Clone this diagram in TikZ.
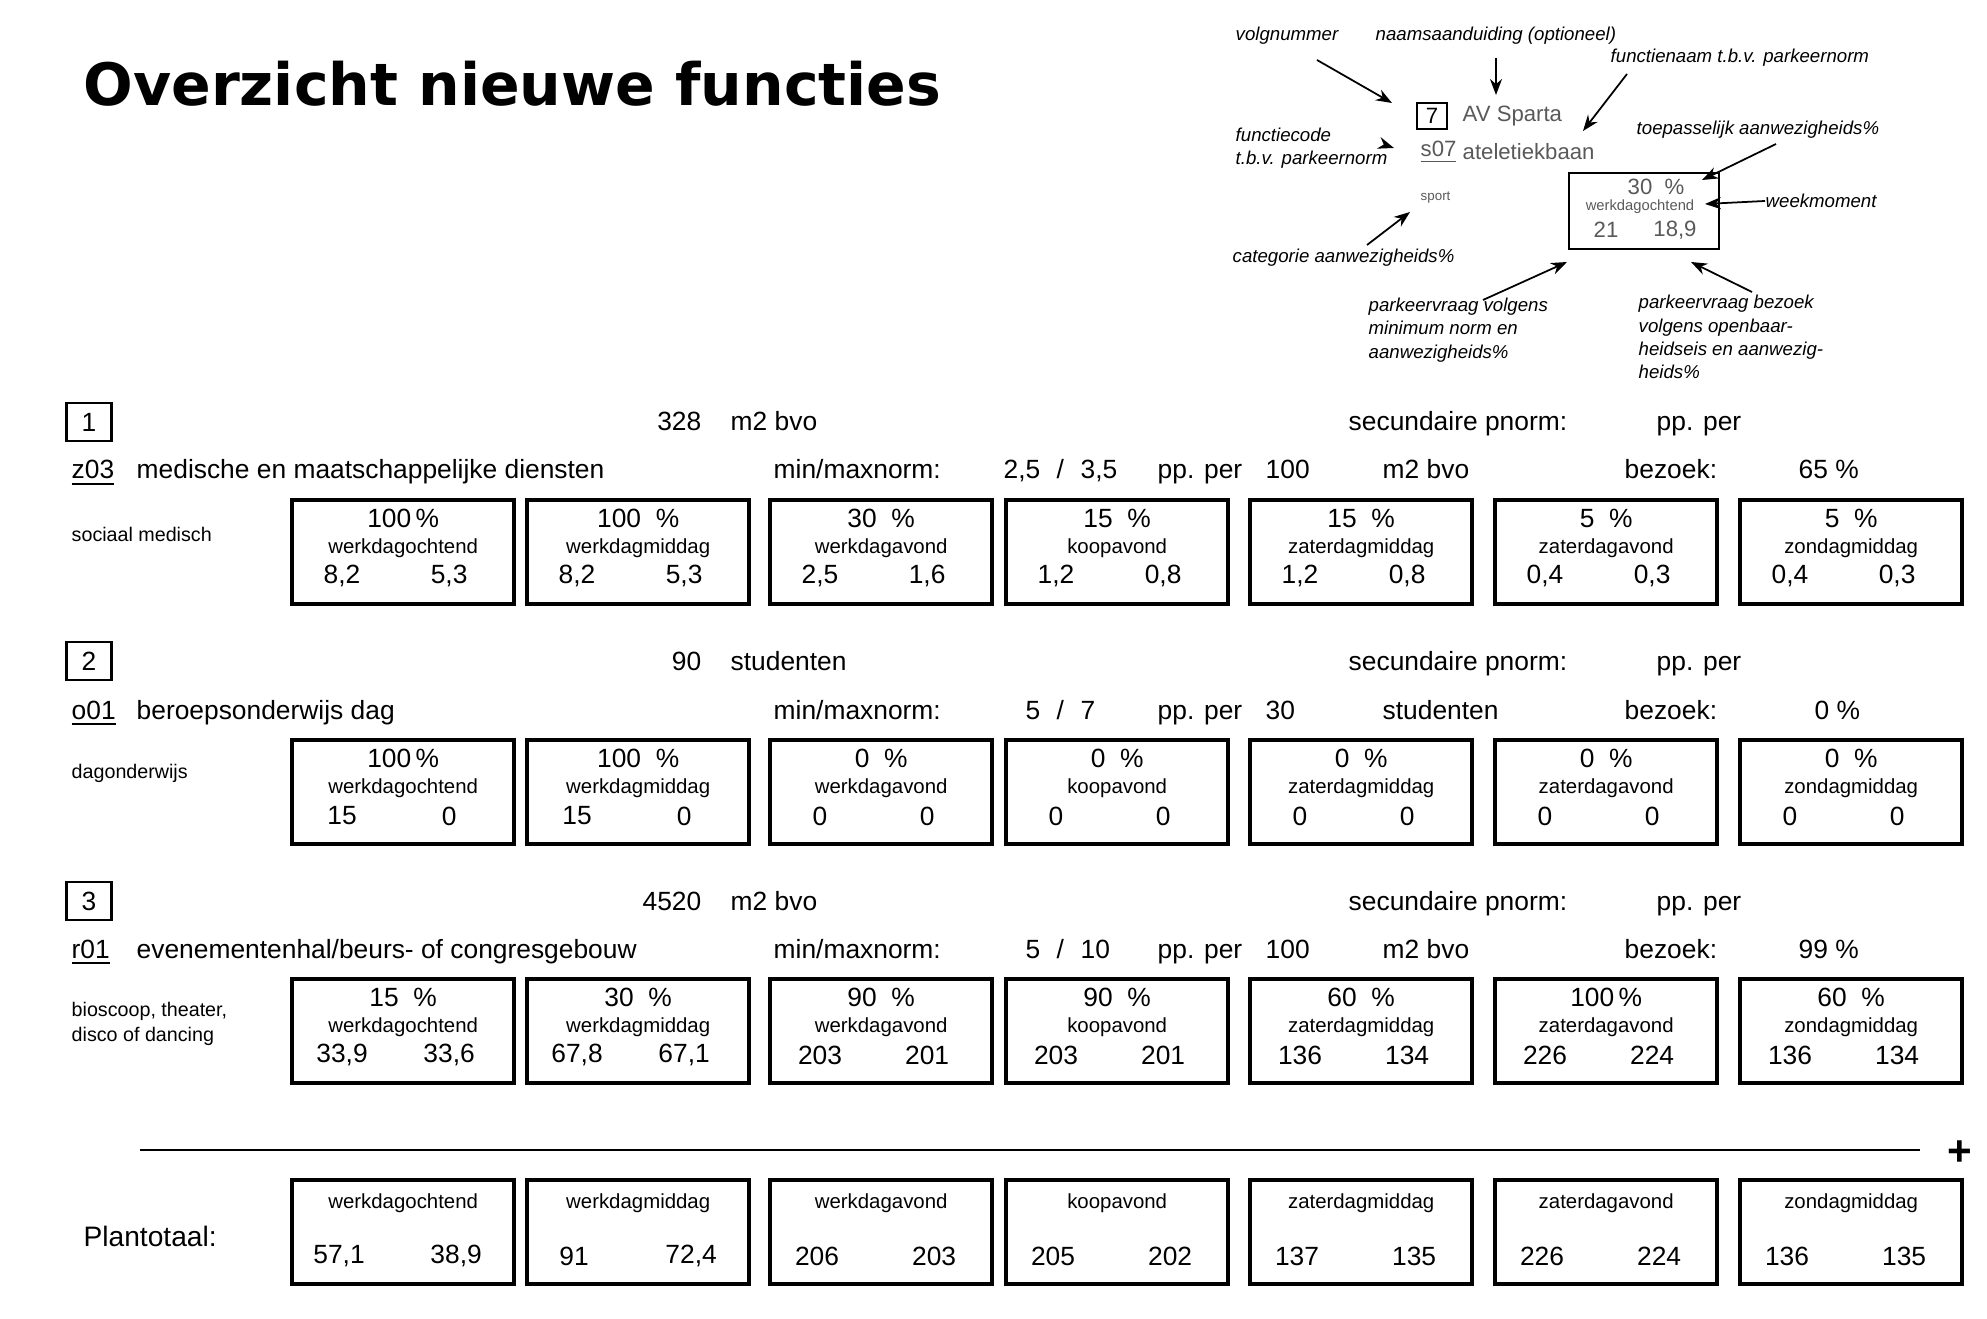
\documentclass[tikz,border=0pt]{standalone}
\usepackage{fontspec}
\setmainfont{Liberation Sans}
\newfontfamily\titlefont{DejaVu Sans}
\usetikzlibrary{arrows.meta,positioning}

% fixed columns of the week-moment boxes
\newcommand\colx[1]{\ifcase#1\or290\or525\or768\or1004\or1248\or1493\or1738\fi}

\begin{document}
\begin{tikzpicture}[
    x=0.01cm, y=-0.01cm,
    txt/.style={anchor=base west, yshift=-0.09cm, inner sep=0pt, font=\fontsize{7.5}{9}\selectfont},
    txtr/.style={txt, anchor=base east},
    cat/.style={anchor=west, inner sep=0pt, align=left, font=\fontsize{5.6}{7.2}\selectfont},
    nrbox/.style={draw, line width=0.6pt, minimum width=0.45cm, minimum height=0.38cm, inner sep=0pt, font=\fontsize{7.5}{9}\selectfont},
    daybox/.style={draw, line width=1.2pt, minimum width=2.22cm, minimum height=1.04cm, anchor=north west},
    pct/.style={inner sep=0pt, font=\fontsize{7.5}{9}\selectfont},
    day/.style={inner sep=0pt, font=\fontsize{5.8}{7}\selectfont},
    note/.style={anchor=west, inner sep=0pt, align=left, font=\fontsize{5.3}{6.6}\selectfont\itshape},
    gray/.style={text=black!65},
    pointer/.style={-{Stealth[length=1.6mm, width=1.2mm]}, line width=0.5pt},
]
    \useasboundingbox (0,0) rectangle (1987,1319);

    \node[anchor=west, inner sep=0pt] (title) at (83,84)
        {\resizebox{8.57cm}{!}{\titlefont\bfseries Overzicht nieuwe functies}};

    % legend
    \node[note] (volg) at (1235,36) {volgnummer};
    \node[note] (naam) at (1375,36) {naamsaanduiding (optioneel)};
    \node[note] (fnaam) at (1610,58) {functienaam t.b.v. parkeernorm};
    \node[note] (fcode) at (1235,148) {functiecode\\t.b.v. parkeernorm};
    \node[note] (categ) at (1232,258) {categorie aanwezigheids\%};
    \node[note] (toep) at (1636,130) {toepasselijk aanwezigheids\%};
    \node[note] (week) at (1765,201) {weekmoment};
    \node[note] (pminimum) at (1368,330) {parkeervraag volgens\\minimum norm en\\aanwezigheids\%};
    \node[note] (pbezoek) at (1638,337) {parkeervraag bezoek\\volgens openbaar-\\heidseis en aanwezig-\\heids\%};
    \node[draw, line width=0.5pt, minimum width=0.3cm, minimum height=0.26cm, inner sep=0pt, font=\fontsize{6.3}{7}\selectfont] (vnr) at (1432,116) {7};
    \node[anchor=west, inner sep=0pt, gray, font=\fontsize{6.3}{7}\selectfont] (avs) at (1462,116) {AV Sparta};
    \node[anchor=west, inner sep=0pt, gray, font=\fontsize{6.3}{7}\selectfont] (s07) at (1420,152) {\underline{s07}};
    \node[anchor=west, inner sep=0pt, gray, font=\fontsize{6.3}{7}\selectfont] (atl) at (1462,152) {ateletiekbaan};
    \node[anchor=west, inner sep=0pt, gray, font=\fontsize{3.8}{4}\selectfont] (sport) at (1420,198) {sport};
    \node[draw, line width=0.6pt, minimum width=1.5cm, minimum height=0.76cm, anchor=north west] (vb) at (1568,172) {};
    \node[pct, gray, font=\fontsize{6.3}{7}\selectfont] (vbp) at (1656,187) {30\ \ \%};
    \node[day, gray, font=\fontsize{4.2}{5}\selectfont] (vbd) at (1640,207) {werkdagochtend};
    \node[pct, gray, font=\fontsize{6.3}{7}\selectfont] (vbl) at (1606,230) {21};
    \node[pct, gray, font=\fontsize{6.3}{7}\selectfont] (vbr) at (1675,230) {18,9};
    \coordinate (v1) at (1392,103);
    \coordinate (v2) at (1496,95);
    \coordinate (v3) at (1583,131);
    \coordinate (v4) at (1394,148);
    \coordinate (v5) at (1410,212);
    \coordinate (v6) at (1702,180);
    \coordinate (v7) at (1705,204);
    \coordinate (v8) at (1567,262);
    \coordinate (v9) at (1691,262);
    \draw[pointer] (1317,60) -- (v1);
    \draw[pointer] (1496,58) -- (v2);
    \draw[pointer] (1627,74) -- (v3);
    \draw[pointer] (fcode.east |- 0,146) -- (v4);
    \draw[pointer] (1367,245) -- (v5);
    \draw[pointer] (1776,144) -- (v6);
    \draw[pointer] (week.west) -- (v7);
    \draw[pointer] (1483,300) -- (v8);
    \draw[pointer] (1752,292) -- (v9);

    % functie 1
    \node[nrbox] (nr1) at (89,422) {1};
    \node[txtr] (opp1) at (702,422) {328};
    \node[txt] (eh1) at (730,422) {m2 bvo};
    \node[txt] (sec1) at (1348,422) {secundaire pnorm:};
    \node[txt] (pp1) at (1656,422) {pp. per};
    \node[txt] (code1) at (71,470) {\underline{z03}};
    \node[txt] (fn1) at (136,470) {medische en maatschappelijke diensten};
    \node[txt] (mm1) at (773,470) {min/maxnorm:};
    \node[txtr] (min1) at (1041,470) {2,5};
    \node[txt] (sl1) at (1056,470) {/};
    \node[txt] (max1) at (1080,470) {3,5};
    \node[txt] (per1) at (1157,470) {pp. per};
    \node[txt] (n1) at (1265,470) {100};
    \node[txt] (ne1) at (1382,470) {m2 bvo};
    \node[txt] (bz1) at (1624,470) {bezoek:};
    \node[txt] (bzp1) at (1798,470) {65 \%};
    \node[cat] (cat1) at (71,534) {sociaal medisch};
    \foreach \k/\p/\d/\a/\b in {1/100\,\%/werkdagochtend/{8,2}/{5,3}, 2/100\ \ \%/werkdagmiddag/{8,2}/{5,3},
        3/30\ \ \%/werkdagavond/{2,5}/{1,6}, 4/15\ \ \%/koopavond/{1,2}/{0,8}, 5/15\ \ \%/zaterdagmiddag/{1,2}/{0,8},
        6/5\ \ \%/zaterdagavond/{0,4}/{0,3}, 7/5\ \ \%/zondagmiddag/{0,4}/{0,3}} {
        \node[daybox] (b1\k) at (\colx{\k},498) {};
        \node[pct] at ([yshift=-0.2cm]b1\k.north) {\p};
        \node[day] at ([yshift=-0.5cm]b1\k.north) {\d};
        \node[pct] at ([xshift=0.52cm,yshift=-0.78cm]b1\k.north west) {\a};
        \node[pct] at ([xshift=1.59cm,yshift=-0.78cm]b1\k.north west) {\b};
    }

    % functie 2
    \node[nrbox] (nr2) at (89,661) {2};
    \node[txtr] (opp2) at (702,661) {90};
    \node[txt] (eh2) at (730,661) {studenten};
    \node[txt] (sec2) at (1348,661) {secundaire pnorm:};
    \node[txt] (pp2) at (1656,661) {pp. per};
    \node[txt] (code2) at (71,710) {\underline{o01}};
    \node[txt] (fn2) at (136,710) {beroepsonderwijs dag};
    \node[txt] (mm2) at (773,710) {min/maxnorm:};
    \node[txtr] (min2) at (1041,710) {5};
    \node[txt] (sl2) at (1056,710) {/};
    \node[txt] (max2) at (1080,710) {7};
    \node[txt] (per2) at (1157,710) {pp. per};
    \node[txt] (n2) at (1265,710) {30};
    \node[txt] (ne2) at (1382,710) {studenten};
    \node[txt] (bz2) at (1624,710) {bezoek:};
    \node[txt] (bzp2) at (1814,710) {0 \%};
    \node[cat] (cat2) at (71,773) {dagonderwijs};
    \foreach \k/\p/\d/\a/\b in {1/100\,\%/werkdagochtend/15/0, 2/100\ \ \%/werkdagmiddag/15/0,
        3/0\ \ \%/werkdagavond/0/0, 4/0\ \ \%/koopavond/0/0, 5/0\ \ \%/zaterdagmiddag/0/0,
        6/0\ \ \%/zaterdagavond/0/0, 7/0\ \ \%/zondagmiddag/0/0} {
        \node[daybox] (b2\k) at (\colx{\k},738) {};
        \node[pct] at ([yshift=-0.2cm]b2\k.north) {\p};
        \node[day] at ([yshift=-0.5cm]b2\k.north) {\d};
        \node[pct] at ([xshift=0.52cm,yshift=-0.78cm]b2\k.north west) {\a};
        \node[pct] at ([xshift=1.59cm,yshift=-0.78cm]b2\k.north west) {\b};
    }

    % functie 3
    \node[nrbox] (nr3) at (89,901) {3};
    \node[txtr] (opp3) at (702,901) {4520};
    \node[txt] (eh3) at (730,901) {m2 bvo};
    \node[txt] (sec3) at (1348,901) {secundaire pnorm:};
    \node[txt] (pp3) at (1656,901) {pp. per};
    \node[txt] (code3) at (71,949) {\underline{r01}};
    \node[txt] (fn3) at (136,949) {evenementenhal/beurs- of congresgebouw};
    \node[txt] (mm3) at (773,949) {min/maxnorm:};
    \node[txtr] (min3) at (1041,949) {5};
    \node[txt] (sl3) at (1056,949) {/};
    \node[txt] (max3) at (1080,949) {10};
    \node[txt] (per3) at (1157,949) {pp. per};
    \node[txt] (n3) at (1265,949) {100};
    \node[txt] (ne3) at (1382,949) {m2 bvo};
    \node[txt] (bz3) at (1624,949) {bezoek:};
    \node[txt] (bzp3) at (1798,949) {99 \%};
    \node[cat] (cat3) at (71,1024) {bioscoop, theater,\\disco of dancing};
    \foreach \k/\p/\d/\a/\b in {1/15\ \ \%/werkdagochtend/{33,9}/{33,6}, 2/30\ \ \%/werkdagmiddag/{67,8}/{67,1},
        3/90\ \ \%/werkdagavond/203/201, 4/90\ \ \%/koopavond/203/201, 5/60\ \ \%/zaterdagmiddag/136/134,
        6/100\,\%/zaterdagavond/226/224, 7/60\ \ \%/zondagmiddag/136/134} {
        \node[daybox] (b3\k) at (\colx{\k},977) {};
        \node[pct] at ([yshift=-0.2cm]b3\k.north) {\p};
        \node[day] at ([yshift=-0.5cm]b3\k.north) {\d};
        \node[pct] at ([xshift=0.52cm,yshift=-0.78cm]b3\k.north west) {\a};
        \node[pct] at ([xshift=1.59cm,yshift=-0.78cm]b3\k.north west) {\b};
    }

    % totaal
    \coordinate (sumL) at (140,1150);
    \coordinate (sumR) at (1920,1150);
    \draw[line width=0.6pt] (sumL) -- (sumR);
    \node[inner sep=0pt, font=\fontsize{12}{12}\selectfont\bfseries] (plus) at (1960,1153) {+};
    \node[anchor=west, inner sep=0pt, font=\fontsize{8}{9}\selectfont] (tot) at (83,1236) {Plantotaal:};
    \foreach \k/\d/\a/\b in {1/werkdagochtend/{57,1}/{38,9}, 2/werkdagmiddag/91/{72,4}, 3/werkdagavond/206/203,
        4/koopavond/205/202, 5/zaterdagmiddag/137/135, 6/zaterdagavond/226/224, 7/zondagmiddag/136/135} {
        \node[daybox] (t\k) at (\colx{\k},1178) {};
        \node[day] at ([yshift=-0.25cm]t\k.north) {\d};
        \node[pct] at ([xshift=0.49cm,yshift=-0.78cm]t\k.north west) {\a};
        \node[pct] at ([xshift=1.66cm,yshift=-0.78cm]t\k.north west) {\b};
    }
\end{tikzpicture}
\end{document}
